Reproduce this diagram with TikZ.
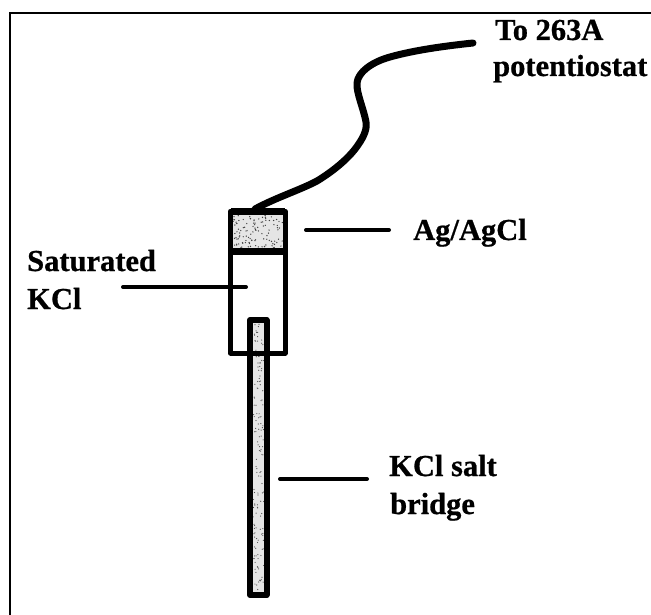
\documentclass[tikz,border=0pt]{standalone}
\usepackage{fontspec}
\setmainfont[BoldFeatures={FakeBold=0.7}]{Liberation Serif}
\begin{document}
\begin{tikzpicture}[x=1pt,y=-1pt,
  lbl/.style={font=\fontsize{30.5}{32}\selectfont\bfseries,anchor=base west,inner sep=0pt,text=black},
  part/.style={draw=black,line width=5pt,line join=round},
  leader/.style={draw=black,line width=4pt,line cap=round},
  wire/.style={draw=black,line width=7pt,line cap=round,line join=round},
  frame/.style={draw=black,line width=1.4pt}]
\useasboundingbox (0,0) rectangle (651,615);
\fill[white] (0,0) rectangle (651,615);
\draw[frame] (10,615) -- (10,13) -- (651,13);
% stippled fills
\fill[black!10] (233,215) rectangle (283,248);
\fill[black!10] (253,322) rectangle (264,593);
\pgfmathsetseed{7}
\foreach \i in {1,...,110}{
  \pgfmathsetmacro\px{233+50*rnd}\pgfmathsetmacro\py{215+33*rnd}
  \fill[black!75] (\px,\py) circle (0.7pt);}
\foreach \i in {1,...,150}{
  \pgfmathsetmacro\px{253+11*rnd}\pgfmathsetmacro\py{322+271*rnd}
  \fill[black!70] (\px,\py) circle (0.6pt);}
% wire
\coordinate (wireA) at (255,209);
\coordinate (wireB) at (473,43);
\draw[wire] (wireA) .. controls (275,198) and (300,190) .. (317,181)
  .. controls (335,170) and (350,157) .. (358,145)
  .. controls (365,135) and (367,128) .. (366,122)
  .. controls (364,110) and (356,92) .. (357,83)
  .. controls (358,72) and (372,62) .. (390,57)
  .. controls (415,50) and (445,46) .. (wireB);
% reference body
\draw[part] (230.5,211) rectangle (285,251);
\draw[part,line width=7pt] (230.5,251) -- (285,251);
\draw[part,line width=7pt] (230.5,211.5) -- (285,211.5);
\draw[part] (230.5,251) rectangle (285,353);
\draw[part,line width=6pt] (250,320) rectangle (266.5,595);
% labels
\node[lbl] (toA) at (495,40) {To 263A};
\node[lbl] (toB) at (493,76) {potentiostat};
\node[lbl] (ag) at (413,240) {Ag/AgCl};
\node[lbl] (sat) at (27,271) {Saturated};
\node[lbl] (kcl) at (27,309) {KCl};
\node[lbl] (salt) at (389,476) {KCl salt};
\node[lbl] (brid) at (390,514) {bridge};
% leader lines
\coordinate (l1a) at (123,287); \coordinate (l1b) at (246,287);
\coordinate (l2a) at (306,230); \coordinate (l2b) at (389,230);
\coordinate (l3a) at (280,479); \coordinate (l3b) at (367,479);
\draw[leader] (l1a) -- (l1b);
\draw[leader] (l2a) -- (l2b);
\draw[leader] (l3a) -- (l3b);
\end{tikzpicture}
\end{document}
